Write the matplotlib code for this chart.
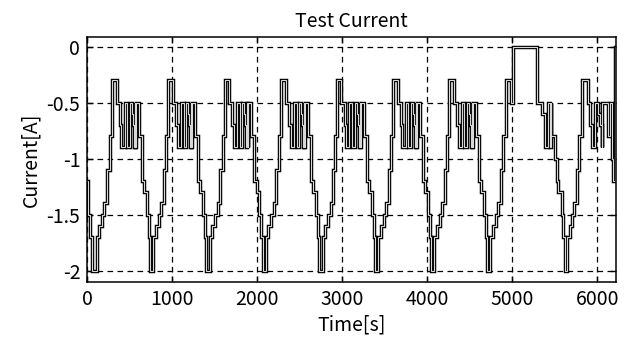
import numpy as np
import matplotlib
matplotlib.use('agg')
import matplotlib.pyplot as plt

# one discharge/charge cycle, times relative to the start of the -0.3 A peak
cycle_t = [0, 51, 90, 108, 145, 178, 208, 228, 245, 255, 264, 270, 280,
           314, 350, 377, 405, 430, 446, 484, 515, 550, 578, 605, 636]
cycle_i = [-0.3, -0.5, -0.7, -0.9, -0.5, -0.9, -0.5, -0.6, -0.7, -0.9, -0.5, -0.9, -0.5,
           -0.8, -1.2, -1.3, -1.5, -1.7, -2.0, -1.7, -1.6, -1.5, -1.4, -1.1, -0.8]
# peak start times of the full cycles
cycle_start = [294, 955, 1616, 2284, 2940, 3600, 4260]

# beginning of the record
head_t = [0, 6, 30, 60, 110, 140, 172, 200, 232, 262]
head_i = [-1.2, -1.5, -1.7, -2.0, -1.7, -1.6, -1.5, -1.4, -1.1, -0.8]

# last peak, rest at 0 A, last part of the record
tail_t = [4930, 4985, 5008, 5297, 5345, 5385, 5425, 5445, 5455, 5462, 5502, 5522, 5542,
          5581, 5601, 5620, 5644, 5679, 5707, 5730, 5758, 5785, 5825, 5888, 5916, 5935,
          5975, 6014, 6034, 6054, 6062, 6085, 6125, 6152, 6175, 6180, 6186, 6205, 6222]
tail_i = [-0.3, -0.5, 0.0, -0.5, -0.6, -0.9, -0.5, -0.9, -0.5, -0.8, -1.0, -1.2, -1.3,
          -1.5, -1.7, -2.0, -1.7, -1.6, -1.5, -1.4, -1.1, -0.8, -0.3, -0.5, -0.7, -0.9,
          -0.5, -0.6, -0.7, -0.9, -0.5, -0.5, -0.8, -0.5, -0.9, -1.0, -1.2, 0.0, 0.0]

t = list(head_t)
cur = list(head_i)
for p in cycle_start:
    t += [p + r for r in cycle_t]
    cur += cycle_i
t += tail_t
cur += tail_i
t = np.array(t, dtype=float)
cur = np.array(cur)

plt.rcParams['font.family'] = ['Noto Sans CJK JP', 'DejaVu Sans']

fig = plt.figure(figsize=(6.34, 3.38), dpi=100)
ax = fig.add_axes([0.1377, 0.1648, 0.834, 0.7266])

ax.plot(t, cur, drawstyle='steps-post', color='black', lw=2.5, solid_joinstyle='miter')
ax.plot(t, cur, drawstyle='steps-post', color='#d8d8d8', lw=0.8, solid_joinstyle='miter')

ax.set_xlim(0, 6222)
ax.set_ylim(-2.105, 0.09)
ax.set_xticks([0, 1000, 2000, 3000, 4000, 5000, 6000])
ax.set_yticks([0, -0.5, -1, -1.5, -2])
ax.set_yticklabels(['0', '-0.5', '-1', '-1.5', '-2'])

ax.grid(True, color='black', linestyle=(0, (4.5, 3.5)), linewidth=0.9)
ax.tick_params(direction='in', length=4, width=1, top=True, right=True,
               labelsize=14, pad=5)
for s in ax.spines.values():
    s.set_linewidth(1.1)

ax.set_title('Test Current', fontsize=14, pad=7)
ax.set_xlabel('Time[s]', fontsize=14, labelpad=3)
ax.set_ylabel('Current[A]', fontsize=14, labelpad=4)

fig.savefig('out.png', dpi=100)
